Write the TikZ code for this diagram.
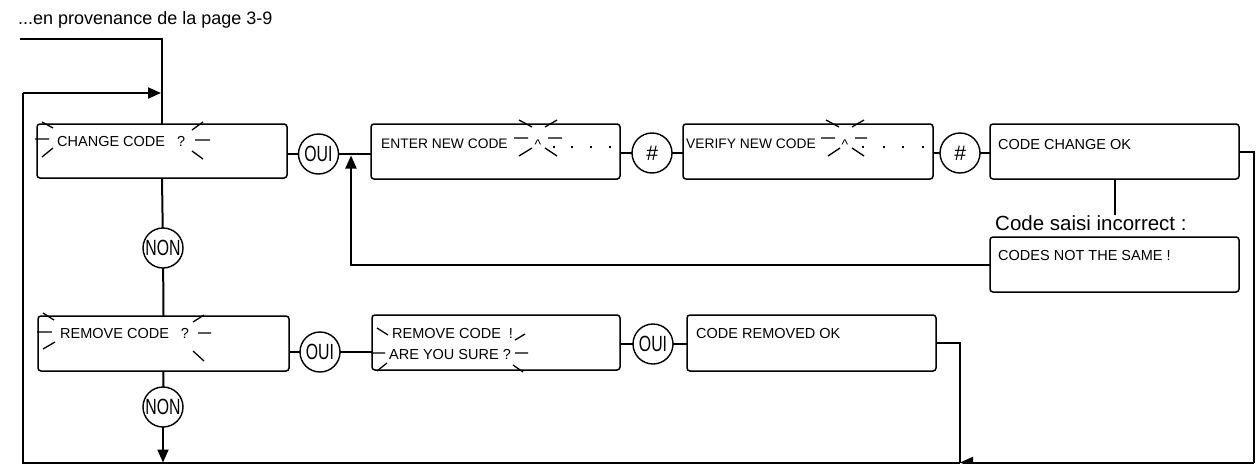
\documentclass[tikz,border=0pt]{standalone}
\usepackage{fontspec}
\setmainfont{Liberation Sans}
\usepackage{graphicx}
\usetikzlibrary{arrows.meta,calc}
\tikzset{
  box/.style={draw, line width=1.5pt, rounded corners=3pt, inner sep=0pt, outer sep=0pt, anchor=north west},
  rnd/.style={draw, circle, line width=1.4pt, minimum size=40pt, inner sep=0pt, outer sep=0pt},
  conn/.style={line width=2pt},
  tip/.style={-{Triangle[length=13pt,width=11pt]}},
  spk/.style={line width=1.3pt},
  txt/.style={anchor=base west, inner sep=0pt, font=\fontsize{14.5}{16}\selectfont},
  txtn/.style={anchor=base west, inner sep=0pt, font=\fontsize{13.8}{16}\selectfont},
  dot/.style={fill, minimum size=2.2pt, inner sep=0pt, outer sep=0pt},
}
\newcommand{\circtxt}[1]{\scalebox{0.72}[1]{\fontsize{22}{22}\selectfont #1}}
\newcommand{\hashtxt}{{\fontsize{21}{21}\selectfont\itshape\#}}
\begin{document}
\begin{tikzpicture}[x=1pt,y=-1pt]
\useasboundingbox (0,0) rectangle (1257,463);

% header
\node[anchor=base west, inner sep=0pt, font=\fontsize{18}{20}\selectfont] (hdr) at (18,24) {...en provenance de la page 3-9};

% boxes
\node[box, minimum width=250pt, minimum height=54pt] (box1) at (37,124) {};
\node[box, minimum width=249pt, minimum height=55pt] (box2) at (371,124) {};
\node[box, minimum width=250pt, minimum height=55pt] (box3) at (683,124) {};
\node[box, minimum width=249pt, minimum height=55pt] (box4) at (990,124) {};
\node[box, minimum width=249pt, minimum height=55pt] (box5) at (990,237) {};
\node[box, minimum width=251pt, minimum height=55pt] (box6) at (38,316) {};
\node[box, minimum width=248pt, minimum height=55pt] (box7) at (372,315) {};
\node[box, minimum width=249pt, minimum height=56pt] (box8) at (687,315) {};

% box texts
\node[txt] (t1) at (57,146) {CHANGE CODE\hspace{12pt}?};
\node[txtn] (t2) at (381,148) {ENTER NEW CODE};
\node[txtn] (t3) at (686,148) {VERIFY NEW CODE};
\node[txt] (t4) at (998,149) {CODE CHANGE OK};
\node[txt] (t5) at (998,260) {CODES NOT THE SAME !};
\node[txt] (t6) at (60,338) {REMOVE CODE\hspace{12pt}?};
\node[txt] (t7a) at (392,338) {REMOVE CODE\hspace{8pt}!};
\node[txt] (t7b) at (389,359) {ARE YOU SURE ?};
\node[txt] (t8) at (696,338) {CODE REMOVED OK};
\node[anchor=base west, inner sep=0pt, font=\fontsize{20.5}{22}\selectfont] (lbl) at (995,230) {Code saisi incorrect :};

% carets and dots
\node[anchor=base, inner sep=0pt, font=\fontsize{14}{16}\selectfont] (car2) at (538,149) {\textasciicircum};
\node[anchor=base, inner sep=0pt, font=\fontsize{14}{16}\selectfont] (car3) at (845,149) {\textasciicircum};
\foreach \x [count=\i] in {554,572,591,610} \node[dot] (d2\i) at (\x,147) {};
\foreach \x [count=\i] in {863,884,903,923} \node[dot] (d3\i) at (\x,147) {};

% sparkles
\draw[spk] (42,122)--(53,128) (35,139)--(49,139) (42,157)--(53,148);
\draw[spk] (192,130)--(203,122) (195,140)--(210,140) (192,151)--(203,159);
\draw[spk] (43,313)--(54,320) (37,332)--(52,332) (43,349)--(55,342);
\draw[spk] (193,322)--(204,315) (198,333)--(211,333) (193,351)--(204,361);
\draw[spk] (519,120)--(532,127) (545,127)--(557,120) (514,138)--(528,138) (548,138)--(562,138) (519,156)--(532,148) (545,148)--(557,156);
\draw[spk] (826,120)--(839,127) (852,127)--(864,120) (821,138)--(835,138) (855,138)--(867,138) (828,156)--(840,148) (852,148)--(864,156);
\draw[spk] (377,328)--(388,335) (371,353)--(385,353) (377,371)--(387,363);
\draw[spk] (515,340)--(525,334) (515,353)--(528,353) (513,365)--(523,372);

% circles
\node[rnd] (oui1) at (318.5,154) {\circtxt{OUI}};
\node[rnd] (hash1) at (652,153) {\hashtxt};
\node[rnd] (hash2) at (960,153) {\hashtxt};
\node[rnd] (non1) at (163,248) {\circtxt{NON}};
\node[rnd] (oui2) at (320,352) {\circtxt{OUI}};
\node[rnd] (oui3) at (653,344) {\circtxt{OUI}};
\node[rnd] (non2) at (163,407) {\circtxt{NON}};

% coordinates
\coordinate (in) at (20,39);
\coordinate (lt) at (23,93);
\coordinate (lb) at (23,462.5);
\coordinate (rb) at (1254,462.5);
\coordinate (b8) at (960,462.5);
\coordinate (c5) at (351,264.5);

% connectors row 1
\draw[conn] (box1.east |- oui1) -- (oui1);
\draw[conn] (oui1) -- (oui1 -| box2.west);
\draw[conn] (box2.east |- hash1) -- (hash1);
\draw[conn] (hash1) -- (hash1 -| box3.west);
\draw[conn] (box3.east |- hash2) -- (hash2);
\draw[conn] (hash2) -- (hash2 -| box4.west);
\draw[conn] (box4.south) -- (box4.south |- lbl.north);
\draw[conn, tip, shorten >=1.5pt] (box5.west) -- (c5) -- (c5 |- oui1);

% row 3
\draw[conn] (box6.east |- oui2) -- (oui2);
\draw[conn] (oui2) -- (oui2 -| box7.west);
\draw[conn] (box7.east |- oui3) -- (oui3);
\draw[conn] (oui3) -- (oui3 -| box8.west);

% vertical
\draw[conn] (in) -| (box1.north);
\draw[conn] (box1.south) -- (non1);
\draw[conn] (non1) -- (box6.north);
\draw[conn] (box6.south) -- (non2);
\draw[conn, tip] (non2) -- (non2 |- lb);

% loops
\draw[conn] (box4.east) -| (rb);
\draw[conn, tip] (rb) -- (b8);
\draw[conn] (box8.east) -| (b8);
\draw[conn] (b8) -- (lb) -- (lt);
\draw[conn, tip, shorten >=1pt] (lt) -- (lt -| box1.north);
\end{tikzpicture}
\end{document}
